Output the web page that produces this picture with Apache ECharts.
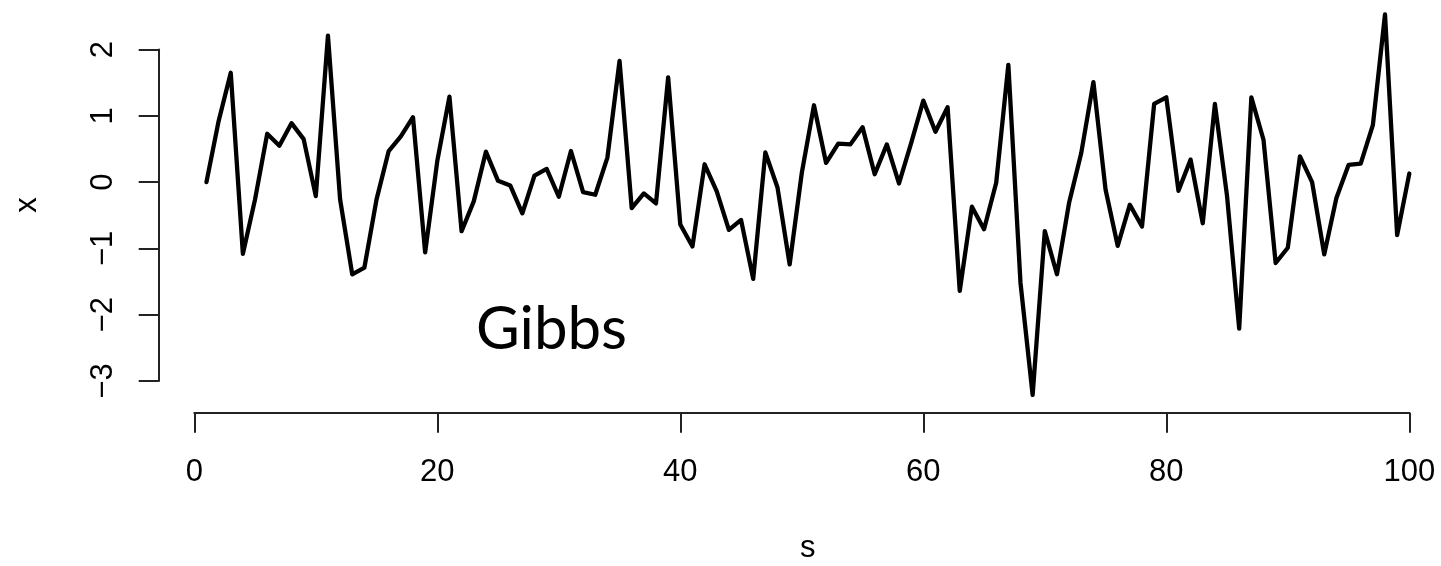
<!DOCTYPE html>
<html>
<head>
<meta charset="utf-8">
<title>Gibbs trace</title>
<script src="https://cdn.jsdelivr.net/npm/echarts@6/dist/echarts.min.js"></script>
<style>
  html, body { margin: 0; padding: 0; background: #fff; }
  #chart { width: 1441px; height: 566px; }
</style>
</head>
<body>
<div id="chart"></div>
<script>
// Trace of 100 Gibbs sampler draws: iteration s against sampled value x
const iterations = Array.from({ length: 100 }, (_, i) => i + 1);
const draws = [
   0.00,  0.92,  1.65, -1.08, -0.26,  0.73,  0.55,  0.89,  0.65, -0.21,
   2.21, -0.26, -1.39, -1.29, -0.26,  0.47,  0.69,  0.98, -1.06,  0.32,
   1.29, -0.74, -0.29,  0.46,  0.02, -0.05, -0.47,  0.10,  0.20, -0.22,
   0.47, -0.15, -0.19,  0.37,  1.83, -0.39, -0.17, -0.32,  1.58, -0.64,
  -0.97,  0.27, -0.14, -0.72, -0.57, -1.46,  0.45, -0.08, -1.24,  0.14,
   1.16,  0.29,  0.58,  0.57,  0.83,  0.12,  0.57, -0.02,  0.59,  1.23,
   0.76,  1.13, -1.64, -0.37, -0.71, -0.01,  1.77, -1.52, -3.21, -0.74,
  -1.39, -0.31,  0.44,  1.51, -0.11, -0.96, -0.34, -0.67,  1.18,  1.28,
  -0.13,  0.34, -0.62,  1.18, -0.21, -2.21,  1.28,  0.64, -1.22, -0.99,
   0.39,  0.00, -1.09, -0.24,  0.26,  0.28,  0.86,  2.53, -0.80,  0.13
];
const xTicks = [0, 20, 40, 60, 80, 100];
const yTicks = [-3, -2, -1, 0, 1, 2];
const xTitle = 's';
const yTitle = 'x';
const annotation = 'Gibbs';

const axisFont = '"Liberation Sans", Arial, Helvetica, sans-serif';
const ink = '#000';

const chart = echarts.init(document.getElementById('chart'), null, { renderer: 'canvas' });

const seriesData = iterations.map((s, i) => [s, draws[i]]);

const axisCommon = {
  type: 'value',
  splitLine: { show: false },
  axisLine: { show: true, onZero: false, lineStyle: { color: '#222', width: 2 } },
  axisTick: { show: true, length: 20, lineStyle: { color: '#222', width: 2 } },
  axisLabel: { color: ink, fontSize: 31, fontFamily: axisFont }
};

chart.setOption({
  animation: false,
  backgroundColor: '#fff',
  grid: { left: 194.3, right: 31.7, top: 49.6, bottom: 185 },
  xAxis: Object.assign({}, axisCommon, {
    min: xTicks[0],
    max: xTicks[xTicks.length - 1],
    interval: xTicks[1] - xTicks[0],
    offset: 31.7,
    axisLabel: Object.assign({}, axisCommon.axisLabel, { margin: 44, showMinLabel: true, showMaxLabel: true })
  }),
  yAxis: Object.assign({}, axisCommon, {
    min: yTicks[0],
    max: yTicks[yTicks.length - 1],
    interval: yTicks[1] - yTicks[0],
    offset: 35.6,
    axisLabel: Object.assign({}, axisCommon.axisLabel, {
      rotate: 90,
      margin: 40,
      formatter: v => (v < 0 ? '\u2212' + Math.abs(v) : String(v))
    })
  }),
  series: [{
    type: 'line',
    data: seriesData,
    showSymbol: false,
    clip: false,
    lineStyle: { color: ink, width: 4.3, join: 'round', cap: 'round' }
  }],
  graphic: [
    {
      type: 'text', x: 807.7, y: 548,
      style: { text: xTitle, fontSize: 31, fontFamily: axisFont, fill: ink, align: 'center', verticalAlign: 'middle' }
    },
    {
      type: 'text', x: 27, y: 205, rotation: Math.PI / 2,
      style: { text: yTitle, fontSize: 31, fontFamily: axisFont, fill: ink, align: 'center', verticalAlign: 'middle' }
    },
    {
      type: 'text', x: 551.5, y: 330,
      style: { text: annotation, fontSize: 60, fontFamily: 'Lato, "Open Sans", sans-serif', fill: ink, align: 'center', verticalAlign: 'middle' }
    }
  ]
});
</script>
</body>
</html>
